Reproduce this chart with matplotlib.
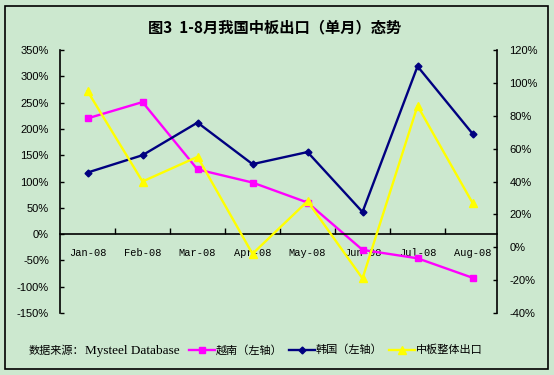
import matplotlib
matplotlib.use("Agg")
import matplotlib.pyplot as plt
from matplotlib.patches import Rectangle
from matplotlib.ticker import FuncFormatter, FixedLocator

plt.rcParams['font.family'] = ['Noto Sans CJK SC', 'DejaVu Sans']

months = ['Jan-08', 'Feb-08', 'Mar-08', 'Apr-08', 'May-08', 'Jun-08', 'Jul-08', 'Aug-08']
vietnam = [220, 251, 123, 98, 60, -30, -46, -83]        # left axis, %
korea = [117, 150, 212, 133, 156, 42, 319, 191]         # left axis, %
total = [95, 40, 55, -4, 28, -19, 86, 27]               # right axis, %
left_ticks = [-150, -100, -50, 0, 50, 100, 150, 200, 250, 300, 350]
right_ticks = [-40, -20, 0, 20, 40, 60, 80, 100, 120]
title = '图3  1-8月我国中板出口（单月）态势'
labels = ['越南（左轴）', '韩国（左轴）', '中板整体出口']
source_cn = '数据来源：'
source_en = 'Mysteel Database'

bg = '#CCE8CF'
W, H = 554, 375
fig = plt.figure(figsize=(W / 100, H / 100), dpi=100, facecolor=bg)
fig.patches.append(Rectangle((5 / W, 6 / H), 543 / W, 363 / H, transform=fig.transFigure,
                             fill=False, edgecolor='black', linewidth=1.2))

ax = fig.add_axes([60 / W, (H - 313) / H, 437 / W, 263 / H])
ax.set_facecolor(bg)
ax2 = ax.twinx()

x = list(range(len(months)))
ax.plot(x, vietnam, color='#FF00FF', lw=1.7, marker='s', ms=5, label=labels[0])
ax.plot(x, korea, color='#000080', lw=1.7, marker='D', ms=3.5, label=labels[1])
ax2.plot(x, total, color='#FFFF00', lw=1.7, marker='^', ms=5.5, label=labels[2])

ax.set_xlim(-0.5, 7.445)
ax.set_ylim(-150, 350)
ax2.set_ylim(-40, 120)

for s in ['top', 'right']:
    ax.spines[s].set_visible(False)
for s in ['top', 'left', 'bottom']:
    ax2.spines[s].set_visible(False)
ax.spines['bottom'].set_position(('data', 0))
ax.spines['left'].set_linewidth(1.2)
ax.spines['bottom'].set_linewidth(1.2)
ax2.spines['right'].set_linewidth(1.2)

pct = FuncFormatter(lambda v, p: f'{int(v)}%')
ax.set_yticks(left_ticks)
ax.yaxis.set_major_formatter(pct)
ax2.set_yticks(right_ticks)
ax2.yaxis.set_major_formatter(pct)
ax.tick_params(axis='y', direction='in', length=3, width=1, labelsize=8, pad=8,
               labelfontfamily='Liberation Sans')
ax2.tick_params(axis='y', direction='in', length=3, width=1, labelsize=8, pad=9,
                labelfontfamily='Liberation Sans')

ax.set_xticks(x)
ax.set_xticklabels(months, fontfamily='Liberation Mono', fontsize=7.5)
ax.xaxis.set_minor_locator(FixedLocator([i + 0.5 for i in range(len(months) - 1)]))
ax.tick_params(axis='x', which='major', length=0, pad=10)
ax.tick_params(axis='x', which='minor', direction='in', length=4, width=1)

fig.text(275 / W, 1 - 27 / H, title, ha='center', va='center', fontsize=11, fontweight='bold')
fig.text(29 / W, 1 - 351 / H, source_cn, ha='left', va='center', fontsize=8)
fig.text(85 / W, 1 - 351 / H, source_en, ha='left', va='center', fontsize=9.5,
         family='Liberation Serif')

h1, l1 = ax.get_legend_handles_labels()
h2, l2 = ax2.get_legend_handles_labels()
fig.legend(h1 + h2, l1 + l2, loc='center left', bbox_to_anchor=(189 / W, 1 - 350 / H),
           ncol=3, frameon=False, fontsize=8, handlelength=2.3, handletextpad=0.1,
           columnspacing=0.6, borderaxespad=0, borderpad=0)

fig.savefig('out.png', dpi=100, facecolor=bg)
